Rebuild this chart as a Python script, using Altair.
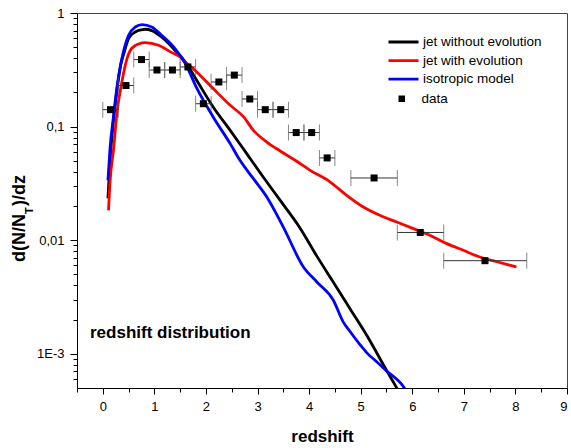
import altair as alt
import pandas as pd

FONT = "Liberation Sans"

# Model curves: redshift z and d(N/N_T)/dz
jet_noevo_z = [0.10, 0.14, 0.20, 0.27, 0.35, 0.40, 0.50, 0.63, 0.75, 0.82, 0.95, 1.14, 1.40,
               1.60, 1.82, 2.14, 2.47, 2.79, 3.11, 3.44, 3.82, 4.15, 4.47, 4.79, 5.12, 5.50, 5.75]
jet_noevo_v = [0.0234, 0.0501, 0.1047, 0.1995, 0.3548, 0.4266, 0.5957, 0.6808, 0.7112, 0.7194,
               0.6998, 0.6152, 0.4699, 0.3707, 0.2559, 0.1489, 0.0927, 0.0578, 0.0360, 0.0224,
               0.0129, 0.00724, 0.00427, 0.00251, 0.00145, 0.000716, 0.000457]

jet_evo_z = [0.11, 0.14, 0.21, 0.27, 0.37, 0.47, 0.59, 0.82, 1.08, 1.34, 1.50, 1.60, 1.82, 2.14,
             2.47, 2.73, 2.92, 3.18, 3.44, 3.76, 4.02, 4.41, 4.57, 4.73, 5.05, 5.37, 5.70, 6.02,
             6.34, 6.67, 6.99, 7.31, 7.64, 8.02]
jet_evo_v = [0.0183, 0.0325, 0.0640, 0.126, 0.247, 0.397, 0.502, 0.548, 0.520, 0.448, 0.410,
             0.371, 0.303, 0.216, 0.154, 0.1216, 0.0927, 0.0731, 0.0610, 0.0495, 0.0412, 0.0325,
             0.0284, 0.0248, 0.0196, 0.01656, 0.01445, 0.01265, 0.01104, 0.00933, 0.00815,
             0.00711, 0.00646, 0.00581]

iso_z = [0.10, 0.14, 0.21, 0.27, 0.37, 0.50, 0.63, 0.76, 0.95, 1.14, 1.40, 1.60, 1.82, 2.14,
         2.47, 2.66, 2.92, 3.18, 3.50, 3.89, 4.15, 4.47, 4.66, 4.79, 4.99, 5.12, 5.31, 5.50,
         5.83, 5.90]
iso_v = [0.0337, 0.0640, 0.126, 0.216, 0.397, 0.637, 0.753, 0.791, 0.753, 0.637, 0.486, 0.359,
         0.219, 0.1216, 0.0708, 0.0505, 0.0348, 0.0240, 0.01306, 0.00581, 0.00429, 0.00296,
         0.00191, 0.00158, 0.00120, 0.00102, 0.000851, 0.000708, 0.000513, 0.000457]

# Observed redshift distribution with bin widths
data_z = [0.15, 0.45, 0.75, 1.05, 1.35, 1.65, 1.95, 2.25, 2.55, 2.85, 3.15, 3.45, 3.75, 4.05,
          4.35, 5.26, 6.155, 7.41]
data_lo = [0.0, 0.3, 0.6, 0.9, 1.2, 1.5, 1.8, 2.1, 2.4, 2.7, 3.0, 3.3, 3.6, 3.9, 4.2, 4.81,
           5.71, 6.61]
data_hi = [0.3, 0.6, 0.9, 1.2, 1.5, 1.8, 2.1, 2.4, 2.7, 3.0, 3.3, 3.6, 3.9, 4.2, 4.5, 5.71,
           6.61, 8.22]
data_v = [0.141, 0.230, 0.389, 0.315, 0.315, 0.335, 0.159, 0.247, 0.284, 0.175, 0.141, 0.141,
          0.0886, 0.0886, 0.053, 0.0353, 0.0117, 0.0066]

series_names = ["jet without evolution", "jet with evolution", "isotropic model"]
series_colors = ["#000000", "#ff0000", "#0000ff"]

# Axis ticks: labelled major ticks plus unlabelled minor ticks
x_ticks = [-0.5, 0, 0.5, 1, 1.5, 2, 2.5, 3, 3.5, 4, 4.5, 5, 5.5, 6, 6.5, 7, 7.5, 8, 8.5, 9]
y_ticks = [0.0006, 0.0007, 0.0008, 0.0009, 0.001,
           0.002, 0.003, 0.004, 0.005, 0.006, 0.007, 0.008, 0.009, 0.01,
           0.02, 0.03, 0.04, 0.05, 0.06, 0.07, 0.08, 0.09, 0.1,
           0.2, 0.3, 0.4, 0.5, 0.6, 0.7, 0.8, 0.9, 1]

curves = pd.concat([
    pd.DataFrame({"z": jet_noevo_z, "v": jet_noevo_v, "model": series_names[0]}),
    pd.DataFrame({"z": jet_evo_z, "v": jet_evo_v, "model": series_names[1]}),
    pd.DataFrame({"z": iso_z, "v": iso_v, "model": series_names[2]}),
], ignore_index=True)

obs = pd.DataFrame({"z": data_z, "lo": data_lo, "hi": data_hi, "v": data_v, "kind": "data"})

xscale = alt.Scale(domain=[-0.5, 9], nice=False, zero=False)
yscale = alt.Scale(type="log", domain=[5e-4, 1], nice=False)

X_MAJOR = "datum.value % 1 == 0"
Y_MAJOR = "indexof([0.001, 0.01, 0.1, 1], datum.value) >= 0"

x_axis = alt.Axis(values=x_ticks, tickCount=100, grid=False, orient="bottom",
                  labelOverlap=False,
                  labelExpr=f"{X_MAJOR} ? format(datum.value, 'd') : ''",
                  tickSize={"condition": {"test": X_MAJOR, "value": 6}, "value": 4},
                  labelPadding=6,
                  title="redshift", titleFontSize=17, titleFontWeight="bold", titlePadding=15)
y_axis = alt.Axis(values=y_ticks, tickCount=100, grid=False, orient="left",
                  labelOverlap=False, title=None,
                  tickSize={"condition": {"test": Y_MAJOR, "value": 7}, "value": 4},
                  labelPadding=6,
                  labelExpr="datum.value == 1 ? '1' : datum.value == 0.1 ? '0,1' : "
                            "datum.value == 0.01 ? '0,01' : datum.value == 0.001 ? '1E-3' : ''")

lines = alt.Chart(curves).mark_line(strokeWidth=2.8, clip=True, interpolate="monotone").encode(
    x=alt.X("z:Q", scale=xscale, axis=x_axis),
    y=alt.Y("v:Q", scale=yscale, axis=y_axis),
    color=alt.Color("model:N",
                    scale=alt.Scale(domain=series_names, range=series_colors),
                    sort=series_names,
                    legend=alt.Legend(orient="none", legendX=310, legendY=21, title=None,
                                      padding=0, symbolType="stroke", symbolSize=900,
                                      symbolStrokeWidth=2.8, clipHeight=16, rowPadding=2.6,
                                      labelOffset=3, labelFont=FONT, labelFontSize=13.5,
                                      labelColor="black")),
)

err = alt.Chart(obs).mark_rule(color="#333", strokeWidth=1).encode(
    x=alt.X("lo:Q", scale=xscale),
    x2="hi:Q",
    y=alt.Y("v:Q", scale=yscale),
)

caps = alt.Chart(obs).transform_fold(["lo", "hi"], as_=["end", "pos"]).mark_tick(
    orient="vertical", size=16, thickness=1, color="#555"
).encode(
    x=alt.X("pos:Q", scale=xscale),
    y=alt.Y("v:Q", scale=yscale),
)

points = alt.Chart(obs).mark_point(filled=True, size=49, opacity=1, color="black").encode(
    x=alt.X("z:Q", scale=xscale),
    y=alt.Y("v:Q", scale=yscale),
    shape=alt.Shape("kind:N", scale=alt.Scale(domain=["data"], range=["square"]),
                    legend=alt.Legend(orient="none", legendX=318, legendY=79, title=None,
                                      padding=0, symbolSize=42, symbolFillColor="black",
                                      symbolStrokeWidth=0, labelOffset=13, labelFont=FONT,
                                      labelFontSize=13.5, labelColor="black")),
)

note = alt.Chart(pd.DataFrame({"t": ["redshift distribution"]})).mark_text(
    align="left", baseline="middle", font=FONT, fontSize=17, fontWeight="bold", color="black"
).encode(text="t:N", x=alt.value(13), y=alt.value(320))

ytitle_main = alt.Chart(pd.DataFrame({"t": ["d(N/N"]})).mark_text(
    align="left", baseline="middle", angle=270, font=FONT, fontSize=18, fontWeight="bold",
    color="black"
).encode(text="t:N", x=alt.value(-57), y=alt.value(249))

ytitle_sub = alt.Chart(pd.DataFrame({"t": ["T"]})).mark_text(
    align="left", baseline="middle", angle=270, font=FONT, fontSize=11, fontWeight="bold",
    color="black"
).encode(text="t:N", x=alt.value(-47), y=alt.value(201))

ytitle_end = alt.Chart(pd.DataFrame({"t": [")/dz"]})).mark_text(
    align="left", baseline="middle", angle=270, font=FONT, fontSize=18, fontWeight="bold",
    color="black"
).encode(text="t:N", x=alt.value(-57), y=alt.value(193))

chart = alt.layer(
    lines, err, caps, points, note, ytitle_main, ytitle_sub, ytitle_end
).properties(
    width=490, height=375,
    autosize=alt.AutoSizeParams(type="none"),
    padding={"left": 77, "top": 13, "right": 4, "bottom": 60},
    background="white",
).configure_view(
    stroke="#444", strokeWidth=1
).configure_axis(
    labelFont=FONT, titleFont=FONT, labelFontSize=13, labelColor="black", titleColor="black",
    domainColor="black", tickColor="black", domainWidth=1, tickWidth=1
)

chart.save("out.html", embed_options={"renderer": "svg", "actions": False})
